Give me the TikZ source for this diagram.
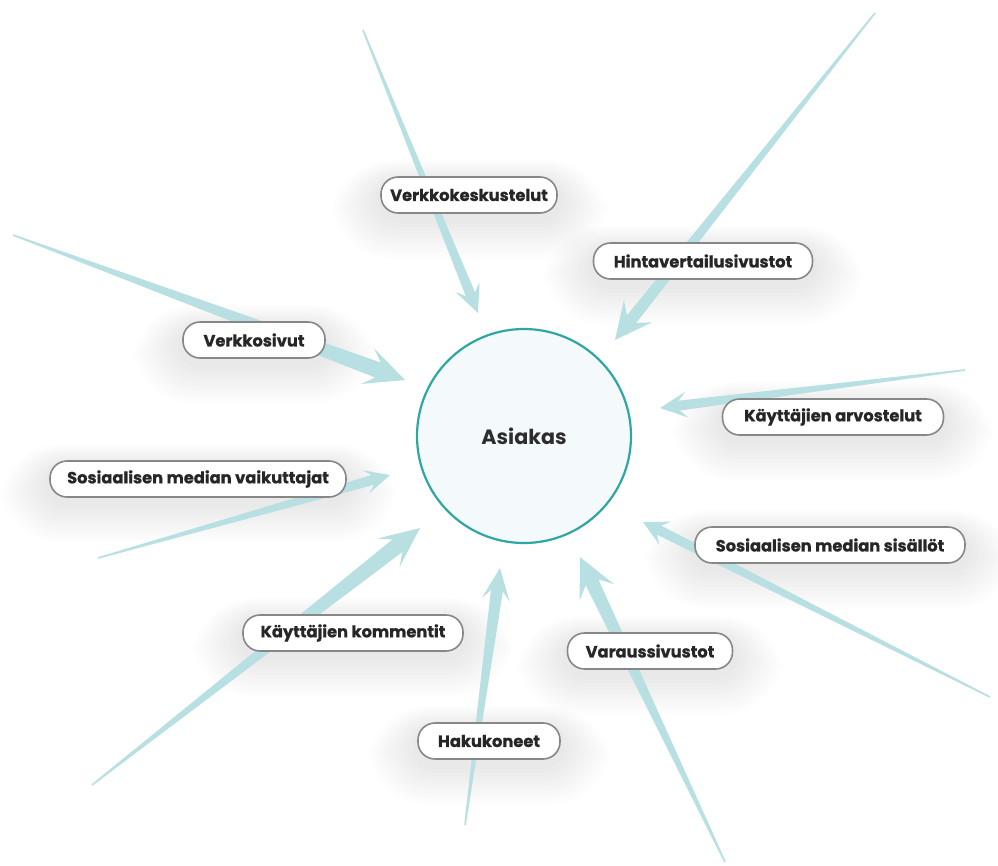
\documentclass[tikz,border=0pt]{standalone}
\usepackage{fontspec}
\setmainfont{Poppins}
\newfontfamily\lblfont{Poppins}[BoldFeatures={FakeBold=0.9}]
\usetikzlibrary{calc}
\definecolor{arrowcol}{RGB}{184,223,226}
\definecolor{ringcol}{RGB}{46,166,162}
\definecolor{ringfill}{RGB}{244,250,251}
\definecolor{boxline}{RGB}{135,135,135}
\definecolor{txt}{RGB}{38,38,38}
\def\PX{0.75pt}
\pgfdeclarelayer{shadowlayer}
\pgfdeclarelayer{arrowlayer}
\pgfsetlayers{shadowlayer,arrowlayer,main}
% tapered arrow: tail, tip, head length, head half width, neck half width
\newcommand\taper[5]{%
  \begin{pgfonlayer}{arrowlayer}
  \fill[arrowcol]
    (#2)
    -- ($(#2)!{#3*0.75pt}!(#1)!{#4*0.75pt}!90:(#2)$)
    -- ($(#2)!{0.72*#3*0.75pt}!(#1)!{#5*0.75pt}!90:(#2)$)
    -- ($(#1)!0.6pt!90:(#2)$)
    -- ($(#1)!0.6pt!-90:(#2)$)
    -- ($(#2)!{0.72*#3*0.75pt}!(#1)!{#5*0.75pt}!-90:(#2)$)
    -- ($(#2)!{#3*0.75pt}!(#1)!{#4*0.75pt}!-90:(#2)$)
    -- cycle;
  \end{pgfonlayer}}
% soft shadow behind a label
\newcommand\softshadow[1]{%
  \begin{pgfonlayer}{shadowlayer}
  \foreach \i in {1,...,11}{
    \fill[black, opacity=0.0065, rounded corners={(18+4*\i)*0.75pt}]
      ($(#1.south west)+(-4.5*\i,3.5*\i+6)$) rectangle ($(#1.north east)+(4.5*\i,-2*\i+6)$);
  }
  \end{pgfonlayer}}
\tikzset{
  lbl/.style={draw=boxline, line width=1.6*\PX, fill=white,
    rounded corners=17*\PX, minimum height=36*\PX, inner sep=0pt,
    font=\lblfont\fontsize{12.2}{14}\selectfont\bfseries, text=txt},
  hub/.style={circle, draw=ringcol, line width=2.2*\PX, fill=ringfill,
    minimum size=214*\PX, inner sep=0pt,
    font=\fontsize{15.5}{18}\selectfont\bfseries, text={rgb,255:red,45;green,45;blue,45}}
}
\begin{document}
\begin{tikzpicture}[x=0.75pt,y=-0.75pt]
\useasboundingbox (0,0) rectangle (998,865);
\begin{pgfonlayer}{shadowlayer}
\fill[white] (0,0) rectangle (998,865);
\end{pgfonlayer}

\node[hub] (c) at (524,436) {Asiakas};

\node[lbl, minimum width=176*\PX] (l1) at (469,195) {Verkkokeskustelut};
\node[lbl, minimum width=219*\PX] (l2) at (703,261) {Hintavertailusivustot};
\node[lbl, minimum width=142*\PX] (l3) at (254,340) {Verkkosivut};
\node[lbl, minimum width=221*\PX] (l4) at (833,417) {Käyttäjien arvostelut};
\node[lbl, minimum width=296*\PX] (l5) at (198,479) {Sosiaalisen median vaikuttajat};
\node[lbl, minimum width=270*\PX] (l6) at (830,545) {Sosiaalisen median sisällöt};
\node[lbl, minimum width=220*\PX] (l7) at (353,633) {Käyttäjien kommentit};
\node[lbl, minimum width=142*\PX] (l8) at (489,741) {Hakukoneet};
\node[lbl, minimum width=165*\PX] (l9) at (650,651) {Varaussivustot};

\foreach \n in {l1,l2,l3,l4,l5,l6,l7,l8,l9}{\softshadow{\n}}

\coordinate (t1) at (363,30);  \coordinate (h1) at (478,313);
\coordinate (t2) at (875,13);  \coordinate (h2) at (615,340);
\coordinate (t3) at (13,235);  \coordinate (h3) at (405,380);
\coordinate (t4) at (965,370); \coordinate (h4) at (660,408);
\coordinate (t5) at (98,558);  \coordinate (h5) at (390,475);
\coordinate (t6) at (990,697); \coordinate (h6) at (643,522);
\coordinate (t7) at (92,785);  \coordinate (h7) at (420,528);
\coordinate (t8) at (465,825); \coordinate (h8) at (500,568);
\coordinate (t9) at (725,862); \coordinate (h9) at (580,557);

\taper{t1}{h1}{28}{13}{5}
\taper{t2}{h2}{37}{18}{6}
\taper{t3}{h3}{40}{19}{8}
\taper{t4}{h4}{27}{13}{5}
\taper{t5}{h5}{25}{12}{5}
\taper{t6}{h6}{25}{13}{5}
\taper{t7}{h7}{40}{18}{8}
\taper{t8}{h8}{32}{14}{6}
\taper{t9}{h9}{39}{19}{7}
\end{tikzpicture}
\end{document}
